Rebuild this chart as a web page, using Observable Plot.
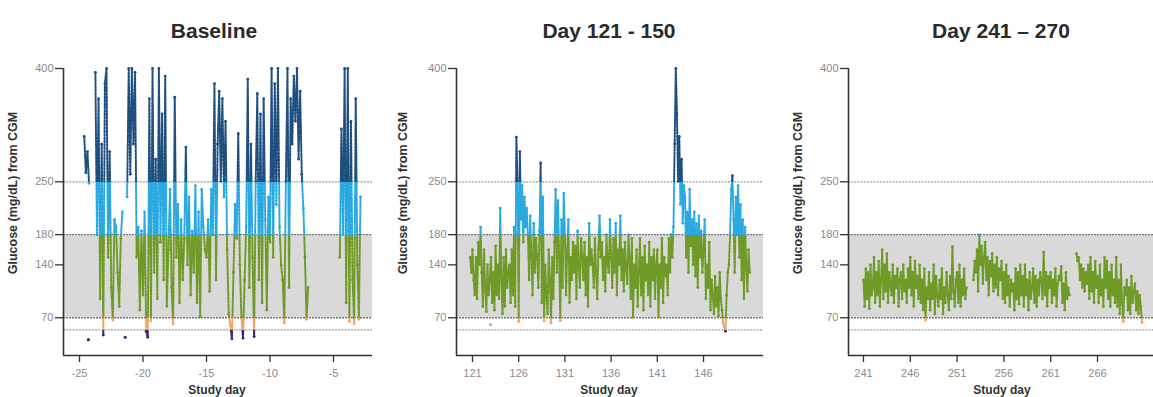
<!DOCTYPE html>
<html>
<head>
<meta charset="utf-8">
<script src="https://cdn.jsdelivr.net/npm/d3@7"></script>
<script src="https://cdn.jsdelivr.net/npm/@observablehq/plot@0.6"></script>
<style>
  html, body { margin: 0; padding: 0; background: #fff; }
  #wrap { position: relative; width: 1153px; height: 397px; overflow: hidden; font-family: "Liberation Sans", Arial, sans-serif; }
  .title { position: absolute; top: 20px; font-size: 21px; line-height: 21px; font-weight: bold; color: #2a2a2a; white-space: nowrap; transform: translateX(-50%); }
  .xlabel { position: absolute; top: 383px; font-size: 12px; line-height: 14px; font-weight: bold; color: #333; white-space: nowrap; transform: translateX(-50%); }
  .ylabel { position: absolute; top: 193px; font-size: 12.5px; line-height: 14px; font-weight: bold; color: #333; white-space: nowrap; transform: translate(-50%, -50%) rotate(-90deg); }
  .panel { position: absolute; top: 50px; }
</style>
</head>
<body>
<div id="wrap"></div>
<script>
// ---------- data ----------
const panelTitles = ["Baseline", "Day 121 - 150", "Day 241 \u2013 270"];
const yAxisLabel = "Glucose (mg/dL) from CGM";
const xAxisLabel = "Study day";
const glucoseTicks = [70, 140, 180, 250, 400];
const glucoseExtent = [20, 400];
const targetRange = [70, 180];
const strongLevels = [180, 70];
const lightLevels = [250, 54];
const readingHours = [0, 3, 6, 9, 12, 15, 18, 21];

const baselineTicks = [-25, -20, -15, -10, -5];
const baselineDays = [-25, -24, -23, -22, -21, -20, -19, -18, -17, -16, -15, -14, -13, -12, -11, -10, -9, -8, -7, -6, -5, -4, -3];
const baselineGlucose = [
  [null, null, null, 310, 262, 290, 248, null],
  [null, null, 395, 180, 360, 95, 300, 47],
  [380, 400, 150, 290, 110, 67, 200, 190],
  [130, 85, 175, 210, null, null, 230, 400],
  [260, 400, 300, 395, 150, 190, 80, 185],
  [100, 210, 52, 44, 360, 66, 400, 130],
  [280, 95, 400, 170, 340, 120, 390, 85],
  [160, 240, 110, 62, 362, 150, 220, 90],
  [200, 120, 175, 296, 140, 230, 100, 185],
  [130, 245, 90, 210, 72, 240, 190, 160],
  [150, 200, 105, 240, 180, 380, 120, 300],
  [370, 250, 360, 230, 330, 160, 75, 60],
  [42, 130, 220, 175, 314, 140, 70, 43],
  [120, 190, 386, 110, 300, 150, 45, 250],
  [367, 120, 340, 90, 360, 200, 80, 230],
  [170, 400, 150, 380, 220, 400, 190, 140],
  [120, 63, 250, 400, 110, 360, 300, 390],
  [330, 400, 280, 370, 260, 215, 150, 68],
  [110, null, null, null, null, null, null, null],
  [null, null, null, null, null, null, null, null],
  [null, null, null, null, 150, 320, 180, 400],
  [90, 400, 65, 330, 120, 62, 360, 140],
  [68, 230, null, null, null, null, null, null]
];
const baselineIsolatedDays = [-24.3, -21.4];
const baselineIsolatedGlucose = [41, 44];

const day121Ticks = [121, 126, 131, 136, 141, 146];
const day121Days = [120, 121, 122, 123, 124, 125, 126, 127, 128, 129, 130, 131, 132, 133, 134, 135, 136, 137, 138, 139, 140, 141, 142, 143, 144, 145, 146, 147, 148, 149, 150, 151];
const day121Glucose = [
  [null, null, null, null, null, null, 150, 130],
  [160, 120, 100, 150, 95, 170, 140, 190],
  [130, 85, 160, 110, 78, 140, 100, 120],
  [150, 90, 130, 80, 165, 100, 140, 95],
  [215, 120, 75, 150, 85, 160, 110, 130],
  [140, 90, 160, 100, 190, 85, 309, 250],
  [65, 290, 200, 245, 170, 230, 190, 215],
  [180, 120, 205, 150, 100, 195, 130, 175],
  [150, 110, 185, 275, 90, 230, 66, 140],
  [100, 75, 160, 120, 63, 150, 95, 170],
  [240, 130, 225, 150, 66, 200, 110, 235],
  [180, 100, 160, 200, 90, 150, 120, 170],
  [130, 165, 95, 185, 140, 110, 175, 150],
  [120, 170, 100, 150, 85, 195, 140, 160],
  [140, 110, 175, 130, 95, 160, 205, 150],
  [170, 120, 150, 105, 180, 140, 130, 200],
  [150, 110, 175, 130, 195, 100, 160, 140],
  [205, 120, 160, 105, 170, 135, 115, 180],
  [150, 95, 175, 70, 140, 110, 160, 85],
  [130, 175, 100, 150, 80, 165, 120, 140],
  [100, 170, 85, 150, 120, 160, 95, 140],
  [160, 70, 140, 110, 175, 90, 150, 125],
  [140, 100, 175, 130, 180, 150, 190, 300],
  [400, 340, 250, 310, 220, 280, 195, 245],
  [230, 150, 210, 130, 240, 165, 200, 140],
  [210, 125, 195, 110, 205, 150, 185, 130],
  [160, 200, 95, 140, 110, 170, 80, 120],
  [100, 75, 125, 85, 110, 72, 130, 95],
  [80, 63, 58, 52, 100, 130, 140, 180],
  [240, 258, 200, 130, 230, 180, 245, 150],
  [220, 120, 200, 95, 190, 140, 105, 160],
  [130, null, null, null, null, null, null, null]
];
const day121IsolatedDays = [122.95];
const day121IsolatedGlucose = [61];

const day241Ticks = [241, 246, 251, 256, 261, 266];
const day241Days = [241, 242, 243, 244, 245, 246, 247, 248, 249, 250, 251, 252, 253, 254, 255, 256, 257, 258, 259, 260, 261, 262, 263, 264, 265, 266, 267, 268, 269, 270];
const day241Glucose = [
  [120, 85, 135, 95, 130, 82, 140, 100],
  [110, 150, 90, 130, 100, 145, 85, 120],
  [160, 95, 140, 105, 155, 90, 130, 115],
  [100, 140, 90, 125, 110, 135, 85, 120],
  [130, 95, 140, 105, 120, 90, 135, 110],
  [150, 100, 130, 85, 145, 110, 125, 95],
  [140, 90, 120, 80, 135, 67, 110, 95],
  [130, 80, 115, 95, 140, 75, 125, 100],
  [85, 120, 95, 135, 75, 110, 90, 130],
  [100, 80, 125, 95, 164, 105, 85, 120],
  [130, 90, 140, 85, 120, 100, 135, 95],
  [110, null, null, null, null, null, 120, 145],
  [130, 160, 105, 180, 140, 165, 115, 150],
  [170, 120, 150, 100, 145, 125, 155, 105],
  [140, 110, 150, 100, 135, 120, 145, 95],
  [130, 90, 140, 100, 125, 85, 120, 105],
  [115, 80, 135, 95, 130, 88, 140, 100],
  [125, 85, 140, 100, 120, 80, 130, 95],
  [110, 135, 90, 125, 85, 120, 100, 130],
  [120, 95, 157, 100, 130, 85, 125, 110],
  [130, 90, 120, 100, 135, 85, 115, 125],
  [120, 138, 90, 115, 80, 130, 95, 110],
  [100, null, null, null, null, null, 155, 145],
  [150, 120, 140, 110, 135, 105, 130, 115],
  [140, 95, 150, 105, 130, 90, 145, 110],
  [125, 90, 140, 100, 120, 85, 150, 110],
  [145, 95, 130, 85, 140, 100, 120, 90],
  [150, 85, 120, 75, 140, 90, 65, 110],
  [100, 120, 80, 110, 75, 125, 90, 105],
  [115, 80, 105, 75, 100, 85, 64, null]
];
const day241IsolatedDays = [];
const day241IsolatedGlucose = [];

// range colours: >250, 180-250, 70-180, 54-70, <54
const rangeBreaks = [400, 250, 180, 70, 54, 20];
const rangeColors = ["#1f4f7f", "#2aa8e0", "#6f9a27", "#f2a263", "#33296f"];

// ---------- layout ----------
const panels = [
  {title: panelTitles[0], days: baselineDays, glucose: baselineGlucose, isoDays: baselineIsolatedDays, isoGlucose: baselineIsolatedGlucose,
   ticks: baselineTicks, domain: [-26.26, -1.93], left: 0, width: 385, marginLeft: 63, marginRight: 13, titleX: 214, yLabelX: 13, xLabelX: 217},
  {title: panelTitles[1], days: day121Days, glucose: day121Glucose, isoDays: day121IsolatedDays, isoGlucose: day121IsolatedGlucose,
   ticks: day121Ticks, domain: [119.27, 152.49], left: 390, width: 385, marginLeft: 66, marginRight: 12, titleX: 609, yLabelX: 403, xLabelX: 609},
  {title: panelTitles[2], days: day241Days, glucose: day241Glucose, isoDays: day241IsolatedDays, isoGlucose: day241IsolatedGlucose,
   ticks: day241Ticks, domain: [239.4, 271.98], left: 780, width: 373, marginLeft: 68, marginRight: 0, titleX: 1001, yLabelX: 798, xLabelX: 1002}
];

const wrap = document.getElementById("wrap");
const NS = "http://www.w3.org/2000/svg";

panels.forEach((p, k) => {
  const gid = "rangeGrad" + k;
  const readings = p.days.flatMap((d, i) => p.glucose[i].map((g, j) => ({day: d + readingHours[j] / 24, glucose: g})));
  const isolated = p.isoDays.map((d, i) => ({day: d, glucose: p.isoGlucose[i]}));

  const chart = Plot.plot({
    width: p.width,
    height: 347,
    marginTop: 18,
    marginBottom: 42,
    marginLeft: p.marginLeft,
    marginRight: p.marginRight,
    style: {fontFamily: "'Liberation Sans', Arial, sans-serif", fontSize: "11px", color: "#333", background: "transparent", overflow: "visible"},
    x: {domain: p.domain, ticks: p.ticks, tickSize: 7, tickPadding: 7, tickFormat: d => String(d), label: null},
    y: {domain: glucoseExtent, ticks: glucoseTicks, tickSize: 8, tickPadding: 2, label: null},
    marks: [
      Plot.rect([targetRange], {x1: () => p.domain[0], x2: () => p.domain[1], y1: d => d[0], y2: d => d[1], fill: "#d9d9d9"}),
      Plot.ruleY(lightLevels, {stroke: "#9a9a9a", strokeWidth: 1.3, strokeDasharray: "2,1.2"}),
      Plot.ruleY(strongLevels, {stroke: "#777", strokeWidth: 1.4, strokeDasharray: "2,1"}),
      Plot.line(readings, {x: "day", y: "glucose", stroke: `url(#${gid})`, strokeWidth: 2, strokeDasharray: "2,1.4", strokeLinejoin: "round"}),
      Plot.dot(readings, {x: "day", y: "glucose", r: 1.4, fill: `url(#${gid})`, stroke: "none"}),
      Plot.dot(isolated, {x: "day", y: "glucose", r: 1.6, fill: `url(#${gid})`, stroke: "none"}),
      Plot.ruleY([glucoseExtent[0]], {stroke: "#333", strokeWidth: 1.6}),
      Plot.ruleX([p.domain[0]], {stroke: "#333", strokeWidth: 1.6})
    ]
  });

  // vertical colour gradient with hard stops at the glucose range limits, from the y scale
  const y = chart.scale("y");
  const ya = y.apply(glucoseExtent[1]), yb = y.apply(glucoseExtent[0]);
  const defs = document.createElementNS(NS, "defs");
  const grad = document.createElementNS(NS, "linearGradient");
  grad.setAttribute("id", gid);
  grad.setAttribute("gradientUnits", "userSpaceOnUse");
  grad.setAttribute("x1", 0); grad.setAttribute("x2", 0);
  grad.setAttribute("y1", ya); grad.setAttribute("y2", yb);
  rangeColors.forEach((c, i) => {
    [rangeBreaks[i], rangeBreaks[i + 1]].forEach(v => {
      const s = document.createElementNS(NS, "stop");
      s.setAttribute("offset", ((y.apply(v) - ya) / (yb - ya)).toFixed(5));
      s.setAttribute("stop-color", c);
      grad.appendChild(s);
    });
  });
  defs.appendChild(grad);
  chart.insertBefore(defs, chart.firstChild);

  chart.querySelectorAll('[aria-label*="axis"] text').forEach(t => t.setAttribute("fill", "#8a8a8a"));
  chart.querySelectorAll('[aria-label*="axis"] path, [aria-label*="axis"] line').forEach(t => { t.setAttribute("stroke", "#333"); t.setAttribute("stroke-width", "1.3"); });

  const holder = document.createElement("div");
  holder.className = "panel";
  holder.style.left = p.left + "px";
  holder.appendChild(chart);
  wrap.appendChild(holder);

  const t = document.createElement("div");
  t.className = "title"; t.style.left = p.titleX + "px"; t.textContent = p.title;
  wrap.appendChild(t);

  const xl = document.createElement("div");
  xl.className = "xlabel"; xl.style.left = p.xLabelX + "px"; xl.textContent = xAxisLabel;
  wrap.appendChild(xl);

  const yl = document.createElement("div");
  yl.className = "ylabel"; yl.style.left = p.yLabelX + "px"; yl.textContent = yAxisLabel;
  wrap.appendChild(yl);
});
</script>
</body>
</html>
